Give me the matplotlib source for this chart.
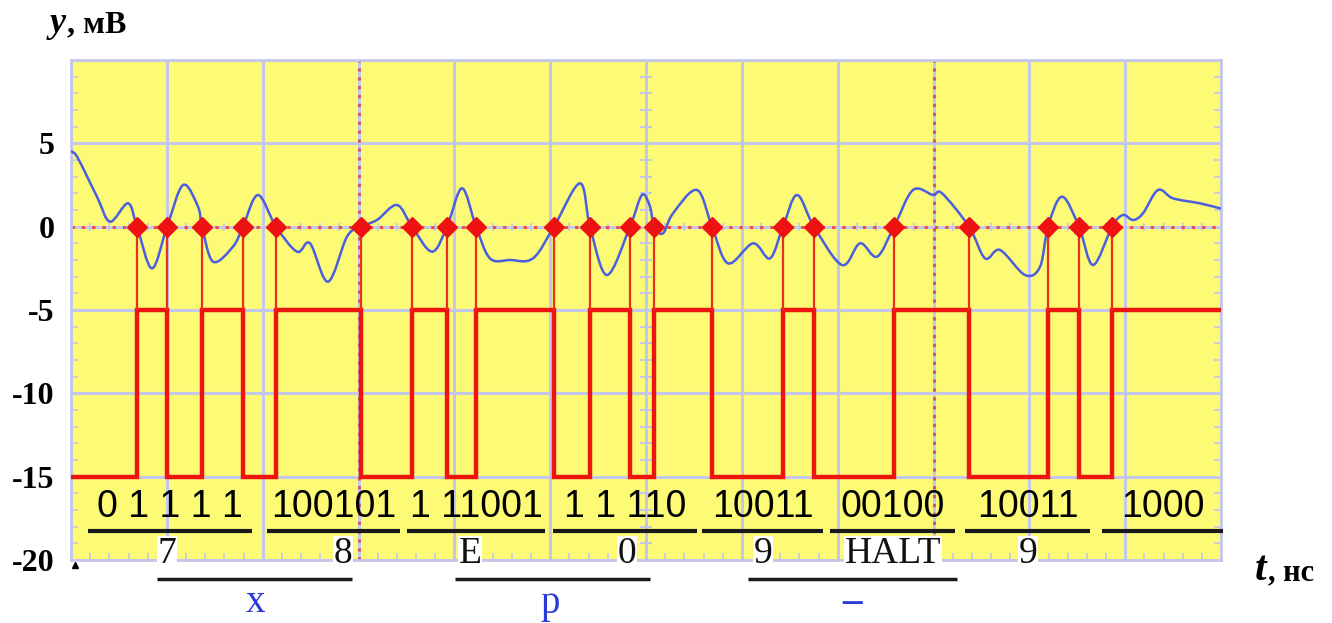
import numpy as np
import matplotlib
matplotlib.use("Agg")
import matplotlib.pyplot as plt
from matplotlib.path import Path
from matplotlib.patches import PathPatch
from matplotlib.transforms import blended_transform_factory

# ---------------- data ----------------
# time in grid divisions (ns), voltage in mV
signal_t = [0.01, 0.073, 0.271, 0.407, 0.595, 0.689, 0.845, 1.002, 1.169, 1.325, 1.367,
            1.482, 1.690, 1.795, 1.951, 2.139, 2.358, 2.494, 2.682, 2.880, 3.026, 3.193,
            3.402, 3.558, 3.767, 3.924, 4.080, 4.226, 4.372, 4.581, 4.821, 5.040, 5.311,
            5.416, 5.593, 5.833, 5.958, 6.042, 6.084, 6.177, 6.282, 6.532, 6.689, 6.856,
            7.117, 7.294, 7.430, 7.576, 7.753, 8.045, 8.233, 8.411, 8.588, 8.786, 8.995,
            9.089, 9.371, 9.538, 9.694, 9.955, 10.112, 10.195, 10.341, 10.518, 10.665,
            10.863, 10.977, 11.082, 11.186, 11.343, 11.500, 11.781, 11.990]
signal_v = [4.5, 4.1, 1.8, 0.3, 1.4, 0.0, -2.5, 0.0, 2.5, 1.2, 0.0,
            -2.1, -1.2, 0.0, 1.9, 0.0, -1.5, -1.0, -3.3, -0.6, 0.0, 0.4,
            1.3, 0.0, -1.5, 0.0, 2.3, 0.0, -1.9, -2.0, -1.9, 0.0, 2.6,
            0.0, -2.9, 0.0, 1.9, 1.2, 0.0, -0.4, 0.8, 2.2, 0.0, -2.2,
            -1.0, -1.9, 0.0, 1.9, 0.0, -2.3, -1.0, -1.8, 0.0, 2.2, 1.9,
            2.0, 0.0, -1.9, -1.4, -2.9, -2.4, 0.0, 1.8, 0.0, -2.3,
            0.0, 0.7, 0.4, 0.8, 2.2, 1.7, 1.4, 1.1]
cross_t = [0.689, 1.002, 1.367, 1.795, 2.139, 3.026, 3.558, 3.924, 4.226, 5.040, 5.416,
           5.833, 6.084, 6.689, 7.430, 7.753, 8.588, 9.371, 10.195, 10.518, 10.863]
level_low = -15
level_high = -5
t_start, t_end = 0, 12

bit_groups = ["0 1 1 1 1", "100101", "1 11001", "1 1 110", "10011", "00100", "10011", "1000"]
hex_labels = ["7", "8", "E", "0", "9", "HALT", "9"]
char_labels = ["x", "p", "\u2013"]

ytick_vals = [5, 0, -5, -10, -15, -20]
ytick_labels = ["5", "0", "-5", "-10", "-15", "-20"]

# ---------------- layout ----------------
group_spans = [(0.177, 1.889), (2.045, 3.433), (3.506, 4.946), (5.030, 6.532),
               (6.585, 7.847), (7.920, 9.225), (9.329, 10.633), (10.759, 12.02)]
hex_x = [1.002, 2.838, 4.164, 5.802, 7.221, 8.578, 9.987]
pair_spans = [(0.897, 2.932), (4.007, 6.042), (7.065, 9.246)]
char_x = [1.920, 4.998, 8.150]

W, H = 1332, 623
fig = plt.figure(figsize=(W / 100, H / 100), dpi=100)
fig.patch.set_facecolor("white")
ax = fig.add_axes([71 / W, 1 - 560 / H, 1150 / W, 500 / H])
ax.set_facecolor("#fdfb76")
ax.set_xlim(t_start, t_end)
ax.set_ylim(-20, 10)

lav = "#c4c7ea"
for s in ax.spines.values():
    s.set_color(lav)
    s.set_linewidth(2)

ax.set_xticks(np.arange(t_start, t_end + 1, 1))
ax.set_xticklabels([])
ax.set_yticks(ytick_vals + [10])
ax.set_yticklabels(ytick_labels + [""], fontfamily="Liberation Serif", fontweight="bold",
                   fontsize=23)
ax.tick_params(which="major", length=0, pad=12)
ax.set_xticks(np.arange(t_start, t_end + 0.01, 0.2), minor=True)
ax.set_yticks(np.arange(-20, 10.01, 1), minor=True)
ax.tick_params(which="minor", direction="in", length=5, width=1.2, color=lav,
               left=True, right=True, bottom=True, top=False)
ax.grid(True, which="major", color=lav, lw=2.2, zorder=0)
ax.set_axisbelow(True)

# centre graticule marks
gx = np.arange(t_start, t_end, 0.2)
ax.plot(gx, np.zeros(len(gx)), ls="none", marker="|", ms=6, mew=1.2, color=lav, zorder=1)
cy = np.arange(-20, 10, 1)
ax.plot(np.full(len(cy), 6.0), cy, ls="none", marker="_", ms=9, mew=1.5, color=lav, zorder=1)

# red dotted reference lines
ax.axhline(0, color="#ee4444", lw=2, ls=(0, (1.2, 2.5)), zorder=1.5)
for xv in (3, 9):
    ax.axvline(xv, color="#d0506a", lw=2, ls=(0, (1.2, 2.0)), zorder=1.5)

# digital square wave
edges = [t_start] + cross_t + [t_end]
levels = [level_low if i % 2 == 0 else level_high for i in range(len(edges) - 1)]
ax.stairs(levels, edges, baseline=None, color="#ee1510", lw=3.2, zorder=3)
ax.vlines(cross_t, level_high, 0, color="#e8301a", lw=1.6, zorder=3)

# analog signal, drawn as a smooth Bezier path through the read points
P = np.column_stack([signal_t, signal_v])
verts = [tuple(P[0])]
codes = [Path.MOVETO]
n = len(P)
for i in range(n - 1):
    p0 = P[i - 1] if i > 0 else P[i]
    p1, p2 = P[i], P[i + 1]
    p3 = P[i + 2] if i + 2 < n else P[i + 1]
    c1 = p1 + (p2 - p0) / 6.0
    c2 = p2 - (p3 - p1) / 6.0
    verts += [tuple(c1), tuple(c2), tuple(p2)]
    codes += [Path.CURVE4] * 3
ax.add_patch(PathPatch(Path(verts, codes), facecolor="none", edgecolor="#4a5fe0",
                       lw=1.8, zorder=4, capstyle="round", joinstyle="round"))
ax.plot(cross_t, np.zeros(len(cross_t)), ls="none", marker="D", ms=10,
        color="#ee1111", mec="#ee1111", zorder=5)

# bit texts and underlines
tr = blended_transform_factory(ax.transData, ax.transAxes)
for txt, (a, b) in zip(bit_groups, group_spans):
    ax.text((a + b) / 2, 0.106, txt, transform=tr, ha="center", va="center",
            fontfamily="Liberation Sans", fontsize=27, color="black", zorder=6, clip_on=False)
    ax.plot([a, b], [0.058, 0.058], transform=tr, color="#1a1a1a", lw=3,
            solid_capstyle="butt", clip_on=False, zorder=6)

for txt, xv in zip(hex_labels, hex_x):
    ax.text(xv, 0.012, txt, transform=tr, ha="center", va="center",
            fontfamily="Liberation Serif", fontsize=27, color="#111111", zorder=6,
            clip_on=False, bbox=dict(facecolor="white", edgecolor="none", pad=0.5))

for (a, b) in pair_spans:
    ax.plot([a, b], [-0.038, -0.038], transform=tr, color="#1a1a1a", lw=2.5,
            solid_capstyle="butt", clip_on=False, zorder=6)

for txt, xv in zip(char_labels, char_x):
    ax.text(xv, -0.086, txt, transform=tr, ha="center", va="center",
            fontfamily="Liberation Serif", fontsize=28, color="#2a3ad8",
            fontweight="bold" if txt == "\u2013" else "normal", zorder=6, clip_on=False)

# small corner marker
ax.plot([0.04], [-0.01], transform=tr, marker="^", ms=4, color="black", clip_on=False)

# axis labels
ty = fig.text(50 / W, 1 - 32 / H, "y", fontfamily="Liberation Serif", fontweight="bold",
              fontstyle="italic", fontsize=26, va="baseline", ha="left")
tt = fig.text(1255 / W, 1 - 580 / H, "t", fontfamily="Liberation Serif", fontweight="bold",
              fontstyle="italic", fontsize=30, va="baseline", ha="left")
fig.canvas.draw()
r = fig.canvas.get_renderer()
by = ty.get_window_extent(r)
bt = tt.get_window_extent(r)
fig.text((by.x1 + 1) / W, 1 - 32 / H, ", мВ", fontfamily="Liberation Serif",
         fontweight="bold", fontsize=23, va="baseline", ha="left")
fig.text((bt.x1 + 1) / W, 1 - 580 / H, ", нс", fontfamily="Liberation Serif",
         fontweight="bold", fontsize=22, va="baseline", ha="left")

fig.savefig("out.png", dpi=100, facecolor="white")
